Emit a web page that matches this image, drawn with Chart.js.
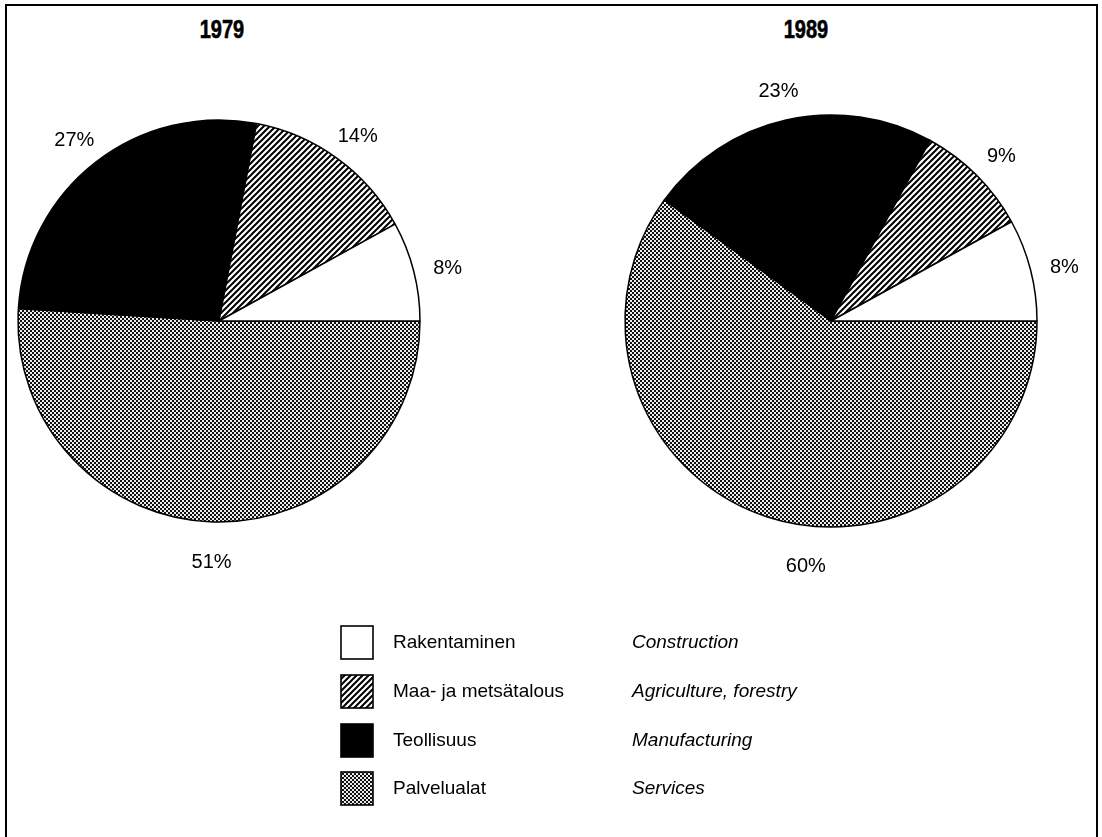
<!DOCTYPE html>
<html>
<head>
<meta charset="utf-8">
<script src="https://cdn.jsdelivr.net/npm/chart.js@4.4.0/dist/chart.umd.min.js"></script>
<style>
  html, body { margin: 0; padding: 0; background: #fff; }
  body { width: 1102px; height: 837px; position: relative; overflow: hidden;
         font-family: "Liberation Sans", Arial, Helvetica, sans-serif; color: #000; }
  #frame { position: absolute; left: 5px; top: 4px; width: 1089px; height: 900px;
           border: 2px solid #000; border-bottom: none; }
  canvas.pie { position: absolute; left: 0; top: 0; pointer-events: none; }
  .title { position: absolute; top: 17px; width: 120px; text-align: center;
           font-family: "Liberation Sans", Arial, sans-serif;
           font-weight: bold; font-size: 25px; line-height: 25px;
           transform: scaleX(0.8); transform-origin: 60px 0;
           -webkit-text-stroke: 0.6px #000; }
  .lg { position: absolute; font-size: 19px; line-height: 22px; white-space: nowrap; }
  .en { font-style: italic; }
  canvas.sw { position: absolute; }
</style>
</head>
<body>
<div id="frame"></div>
<div class="title" id="t0" style="left:162px"></div>
<div class="title" id="t1" style="left:746px"></div>
<canvas class="pie" id="pie0" width="1102" height="837"></canvas>
<canvas class="pie" id="pie1" width="1102" height="837"></canvas>
<div id="legend"></div>
<script>
// ---------- data ----------
const years = ["1979", "1989"];
const categoriesFi = ["Rakentaminen", "Maa- ja metsätalous", "Teollisuus", "Palvelualat"];
const categoriesEn = ["Construction", "Agriculture, forestry", "Manufacturing", "Services"];
const values1979 = [8, 14, 27, 51];
const values1989 = [8, 9, 23, 60];

// ---------- fills ----------
function hatchPattern(ctx) {
  const c = document.createElement('canvas'); c.width = 6; c.height = 6;
  const g = c.getContext('2d');
  g.fillStyle = '#fff'; g.fillRect(0, 0, 6, 6);
  g.strokeStyle = '#000'; g.lineWidth = 2;
  g.beginPath();
  g.moveTo(-1, 7); g.lineTo(7, -1);
  g.moveTo(-1, 1); g.lineTo(1, -1);
  g.moveTo(5, 7); g.lineTo(7, 5);
  g.stroke();
  return ctx.createPattern(c, 'repeat');
}
function ditherPattern(ctx) {
  const c = document.createElement('canvas'); c.width = 4; c.height = 4;
  const g = c.getContext('2d');
  g.fillStyle = '#ececec'; g.fillRect(0, 0, 4, 4);
  g.fillStyle = '#111';
  g.fillRect(0, 0, 2, 2); g.fillRect(2, 2, 2, 2);
  return ctx.createPattern(c, 'repeat');
}
function fillsFor(ctx) {
  return ['#ffffff', hatchPattern(ctx), '#000000', ditherPattern(ctx)];
}

// ---------- percentage labels plugin ----------
const pctLabels = {
  id: 'pctLabels',
  afterDatasetsDraw(chart, args, opts) {
    const ctx = chart.ctx;
    const meta = chart.getDatasetMeta(0);
    const vals = chart.data.datasets[0].data;
    ctx.save();
    ctx.font = '20px "Liberation Sans", Arial, sans-serif';
    ctx.fillStyle = '#000';
    ctx.textAlign = 'center';
    ctx.textBaseline = 'middle';
    meta.data.forEach((arc, i) => {
      const p = arc.getProps(['x', 'y', 'startAngle', 'endAngle', 'outerRadius'], true);
      let a = (p.startAngle + p.endAngle) / 2;
      if (opts.angles && opts.angles[i] != null) a = -opts.angles[i] * Math.PI / 180;
      const d = p.outerRadius + opts.gap;
      ctx.fillText(vals[i] + '%', p.x + Math.cos(a) * d, p.y + Math.sin(a) * d + opts.dy);
    });
    ctx.restore();
  }
};

function makePie(id, values, radius, padding, angles) {
  const cv = document.getElementById(id);
  const ctx = cv.getContext('2d');
  const fills = fillsFor(ctx);
  // drawn clockwise from 3 o'clock, so the legend order is reversed
  const order = [3, 2, 1, 0];
  return new Chart(cv, {
    type: 'pie',
    data: {
      labels: order.map(i => categoriesFi[i]),
      datasets: [{
        data: order.map(i => values[i]),
        backgroundColor: order.map(i => fills[i]),
        borderColor: '#000',
        borderWidth: 1.5,
        radius: radius
      }]
    },
    options: {
      responsive: false,
      animation: false,
      rotation: 90,
      layout: { padding: padding },
      plugins: {
        legend: { display: false },
        tooltip: { enabled: false },
        title: { display: false },
        pctLabels: { gap: 35, dy: 6, angles: angles }
      }
    },
    plugins: [pctLabels]
  });
}

document.getElementById('t0').textContent = years[0];
document.getElementById('t1').textContent = years[1];

makePie('pie0', values1979, 201, { left: 18, right: 682, top: 120, bottom: 315 }, null);
makePie('pie1', values1989, 206, { left: 625, right: 65, top: 115, bottom: 310 }, [264, null, null, null]);

// ---------- legend ----------
const legend = document.getElementById('legend');
const rowTop = [625, 674, 723, 771];
categoriesFi.forEach((name, i) => {
  const sw = document.createElement('canvas');
  sw.className = 'sw'; sw.width = 34; sw.height = 35;
  sw.style.left = '340px'; sw.style.top = rowTop[i] + 'px';
  legend.appendChild(sw);
  const g = sw.getContext('2d');
  g.fillStyle = fillsFor(g)[i];
  g.fillRect(1, 1, 32, 33);
  g.strokeStyle = '#000'; g.lineWidth = 1.6;
  g.strokeRect(1, 1, 32, 33);
  const fi = document.createElement('div');
  fi.className = 'lg'; fi.textContent = name;
  fi.style.left = '393px'; fi.style.top = (rowTop[i] + 6) + 'px';
  legend.appendChild(fi);
  const en = document.createElement('div');
  en.className = 'lg en'; en.textContent = categoriesEn[i];
  en.style.left = '632px'; en.style.top = (rowTop[i] + 6) + 'px';
  legend.appendChild(en);
});
</script>
</body>
</html>
